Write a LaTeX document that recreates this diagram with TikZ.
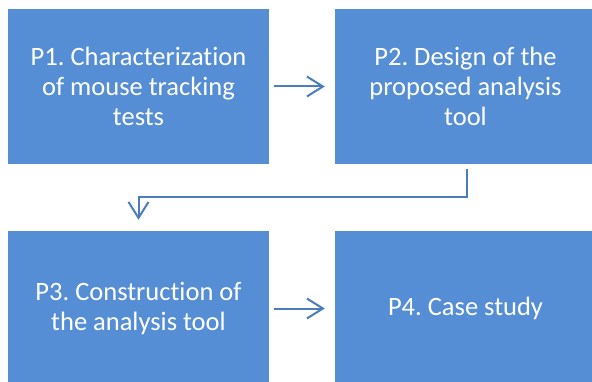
\documentclass[tikz,border=0pt]{standalone}
\usepackage{fontspec}
\setmainfont{Carlito}[Ligatures=NoCommon]
\usepackage{tikz}
\usetikzlibrary{positioning, arrows.meta, calc}

\definecolor{stagefill}{RGB}{85,142,213}
\definecolor{flowline}{RGB}{74,126,187}
\frenchspacing

\begin{document}
\begin{tikzpicture}[
        x=1pt, y=1pt,
        stage/.style={rectangle, fill=stagefill, text=white, inner sep=0pt,
            minimum width=261pt, minimum height=155pt, align=center,
            font=\fontsize{26.5}{30}\selectfont},
        flow/.style={draw=flowline, line width=2pt,
            -{Straight Barb[length=16pt, width=20pt]}},
    ]
    \useasboundingbox (0,0) rectangle (592,381);
    \clip (0,0) rectangle (592,381);

    % Top row
    \node[stage] (p1) at (138.5,294.5) {P1. Characterization\\of mouse tracking\\tests};
    \node[stage] (p2) at (465.5,294.5) {P2. Design of the\\proposed analysis\\tool};

    % Bottom row
    \node[stage] (p3) at (138.5,72.5) {P3. Construction of\\the analysis tool};
    \node[stage] (p4) at (465.5,72.5) {P4. Case study};

    % Connectors
    \draw[flow, shorten <=5pt, shorten >=10pt] (p1.east) -- (p2.west);
    \draw[flow, shorten <=5pt, shorten >=11pt] ($(p2.south)+(1.5,0)$) -- ++(0,-33) -| (p3.north);
    \draw[flow, shorten <=5pt, shorten >=10pt] (p3.east) -- (p4.west);
\end{tikzpicture}
\end{document}
